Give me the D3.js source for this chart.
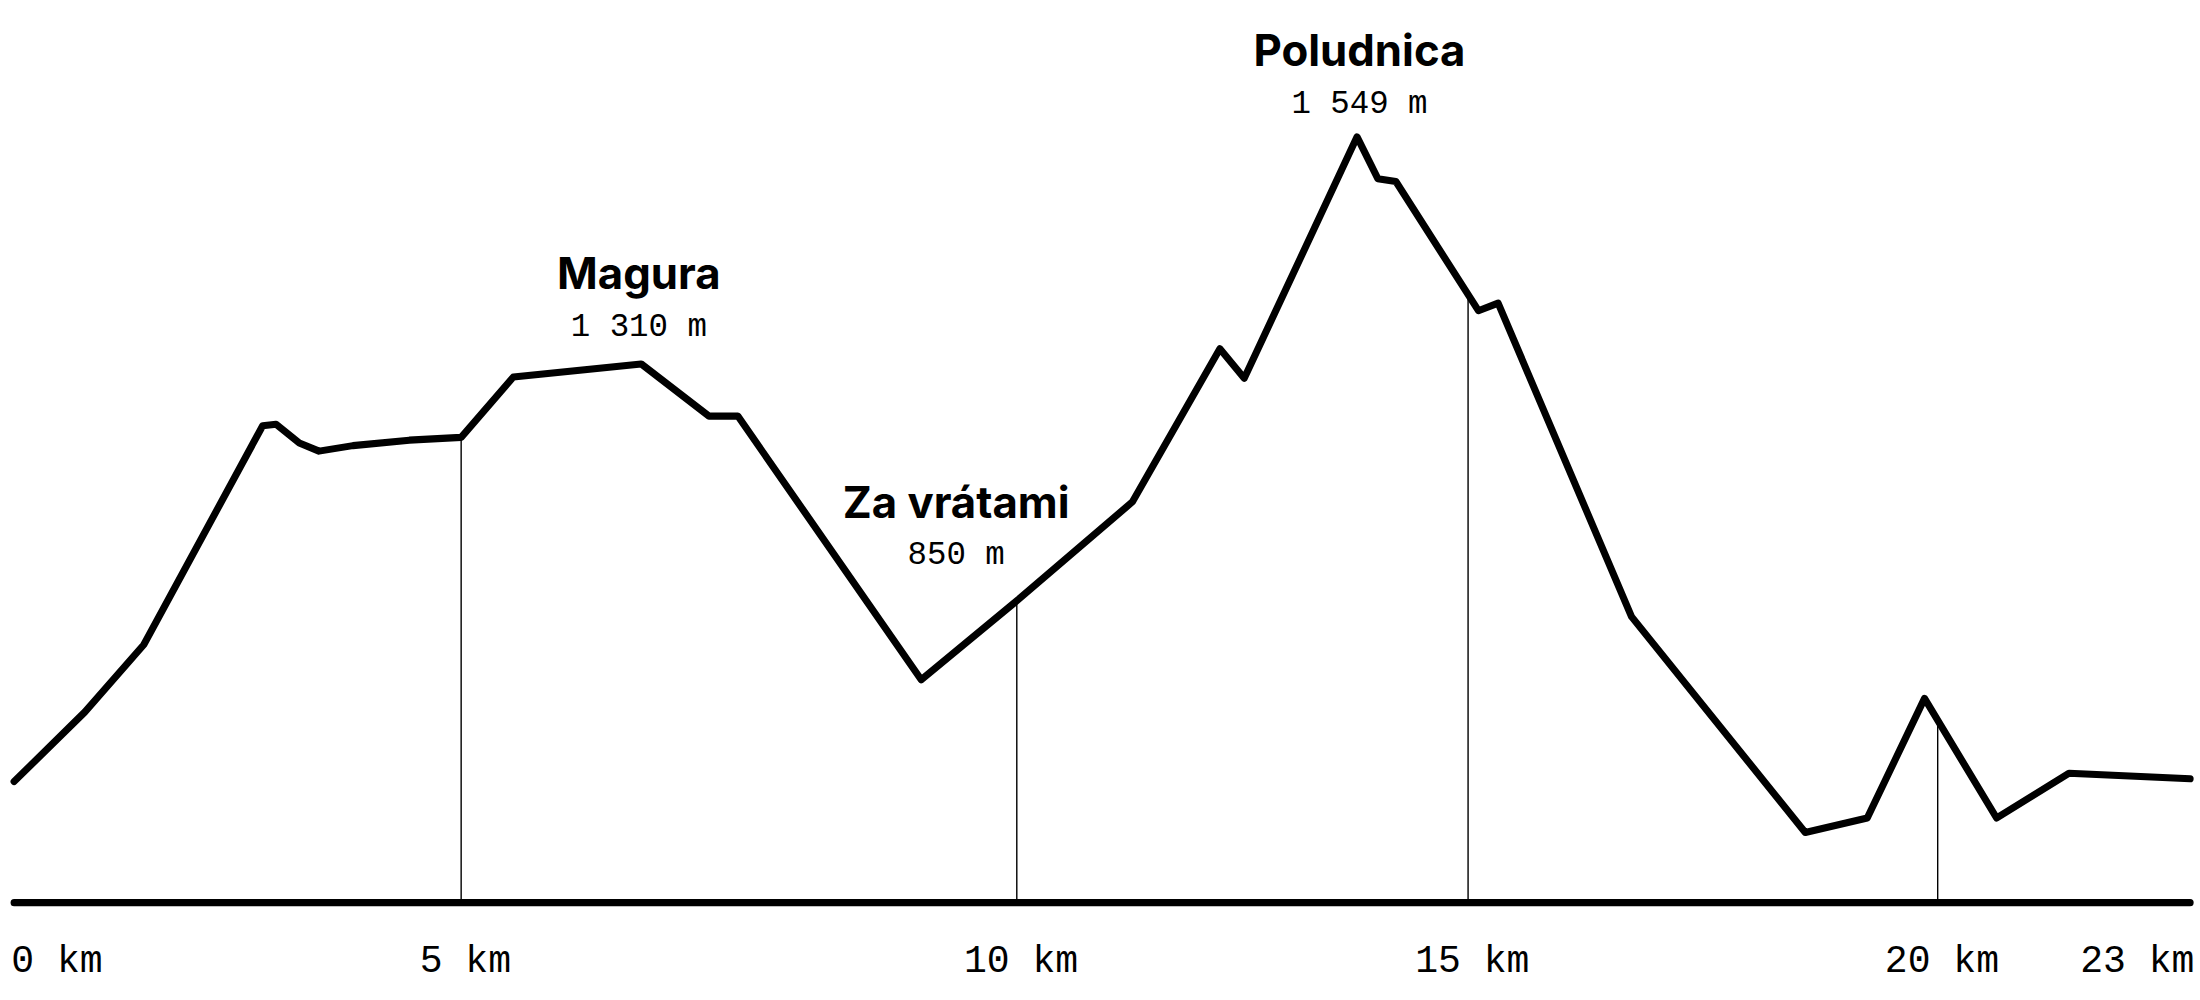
<!DOCTYPE html>
<html><head><meta charset="utf-8">
<script src="https://cdn.jsdelivr.net/npm/d3@7"></script>
<style>body{margin:0;background:#fff}</style></head>
<body><script>
const distanceKm = [0,0.79,1.45,2.78,2.93,3.19,3.41,3.79,4.42,5,5.47,6.62,7.23,7.49,9.14,10,11.28,12.25,12.52,13.77,14.0,14.2,15.11,15.32,16.74,18.59,19.25,19.86,20.7,21.56,23];
const elevationM = [702,803,901,1220,1222,1195,1183,1191,1199,1203,1291,1310,1234,1234,850,965,1109,1326,1289,1549,1505,1502,1366,1374,942,628,649,823,649,714,706];
const tickKm = [0,5,10,15,20,23];
const tickLabels = ["0 km","5 km","10 km","15 km","20 km","23 km"];
const peakNames = ["Poludnica","Magura","Za vrátami"];
const peakHeights = ["1 549 m","1 310 m","850 m"];
const peakKm = [13.77,6.62,9.14];
const peakLabelKm = [13.77,6.0,8.9];
const peakLabelElev = [1549,1310,850];

const svg = d3.select("body").append("svg").attr("width",2200).attr("height",1000)
  .attr("viewBox","0 0 1560 709");
const x = d3.scaleLinear().domain([0,5,10,15,20,23]).range([10,327,721,1041,1374,1553]);
const y = d3.scaleLinear().domain([526,850,1310,1549]).range([640,482,258,97]);
const interp = k => { for(let i=1;i<distanceKm.length;i++){ if(k<=distanceKm[i]){const t=(k-distanceKm[i-1])/(distanceKm[i]-distanceKm[i-1]);return elevationM[i-1]+t*(elevationM[i]-elevationM[i-1]);}} return elevationM[elevationM.length-1]; };

[5,10,15,20].forEach(k=>{
  svg.append("line").attr("x1",x(k)).attr("x2",x(k)).attr("y1",y(526)).attr("y2",y(interp(k)))
    .attr("stroke","#000").attr("stroke-width",1);
});
svg.append("line").attr("x1",x(0)).attr("x2",x(23)).attr("y1",y(526)).attr("y2",y(526))
  .attr("stroke","#000").attr("stroke-width",5).attr("stroke-linecap","round");
const line = d3.line().x((d,i)=>x(distanceKm[i])).y((d,i)=>y(elevationM[i]));
svg.append("path").attr("d",line(elevationM)).attr("fill","none").attr("stroke","#000")
  .attr("stroke-width",5).attr("stroke-linejoin","round").attr("stroke-linecap","round");

tickKm.forEach((k,i)=>{
  const anchor = i===0?"start":(i===tickKm.length-1?"end":"middle");
  const dx = i===0?-2:(i===tickKm.length-1?3:3);
  svg.append("text").attr("x",x(k)+dx).attr("y",689).attr("text-anchor",anchor)
    .attr("font-family","Liberation Mono, DejaVu Sans Mono, monospace").attr("font-size",27)
    .text(tickLabels[i]);
});
const offs=[[-50,-22],[-53,-18],[-115,-93]];
peakNames.forEach((n,i)=>{
  const cx = [964,453,678][i];
  const by = [47,205,367][i];
  svg.append("text").attr("x",cx).attr("y",by).attr("text-anchor","middle")
    .attr("font-family","Inter, Roboto, sans-serif").attr("font-weight",700).attr("font-size",31).text(n);
  svg.append("text").attr("x",cx).attr("y",by+33).attr("text-anchor","middle")
    .attr("font-family","Liberation Mono, DejaVu Sans Mono, monospace").attr("font-size",23).text(peakHeights[i]);
});
</script></body></html>
